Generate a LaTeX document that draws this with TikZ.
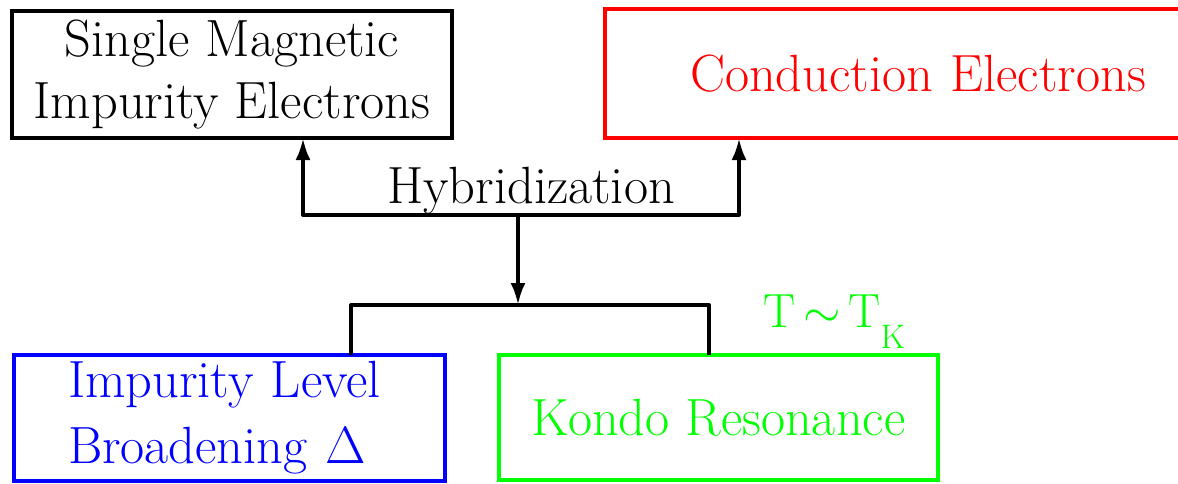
\documentclass[tikz,border=0pt]{standalone}
\usepackage{graphicx}
\usetikzlibrary{arrows.meta}
\definecolor{boxred}{RGB}{255,0,0}
\definecolor{boxblue}{RGB}{0,0,255}
\definecolor{boxgreen}{RGB}{0,255,0}
% math symbols enlarged to the size of the surrounding text
\newcommand{\bigDelta}{\scalebox{2.106}{$\Delta$}}
\newcommand{\bigSim}{\scalebox{1.93}{$\sim$}}
\begin{document}
\begin{tikzpicture}[x=1pt,y=-1pt,
  box/.style={draw, line width=4pt, inner sep=0pt, outer sep=0pt,
    font=\fontsize{52.4}{62}\selectfont},
  link/.style={draw=black, line width=4pt, line join=round},
  tip/.style={-{Latex[length=22pt,width=15pt]}},
  twotips/.style={{Latex[length=22pt,width=15pt]}-{Latex[length=22pt,width=15pt]}},
  lbl/.style={font=\fontsize{52.4}{62}\selectfont}]
\useasboundingbox (0,0) rectangle (1178,483);
\clip (0,0) rectangle (1178,483);

% the four boxes
\node[box, minimum width=440pt, minimum height=127pt, align=center]
  (mag) at (232,74.5) {Single Magnetic\\Impurity Electrons};
\node[box, draw=boxred, text=boxred, minimum height=129pt,
  text width=480pt, inner xsep=85pt, align=left]
  (cond) at (930,73.5) {Conduction Electrons};
\node[box, draw=boxblue, text=boxblue, font=\fontsize{52.4}{66}\selectfont,
  minimum height=126pt, text width=323pt, inner xsep=54pt, align=left]
  (imp) at (229.5,418) {Impurity Level\\Broadening \bigDelta};
\node[box, draw=boxgreen, text=boxgreen, minimum width=439pt, minimum height=125pt]
  (kondo) at (718.5,417.5) {Kondo Resonance};

% labels
\node[lbl, anchor=base] (hyb) at (531,203) {Hybridization};
\node[text=boxgreen, anchor=base west, inner sep=0pt,
  font=\fontsize{48}{56}\selectfont] (tk) at (763,327)
  {T\,\bigSim\,T\raisebox{-21pt}{\fontsize{34}{40}\selectfont K}};

% junction points of the connectors
\coordinate (hl) at (303,215);
\coordinate (hm) at (518,215);
\coordinate (hr) at (739,215);
\coordinate (ll) at (351,305);
\coordinate (lm) at (518,305);
\coordinate (lr) at (709,305);

% connectors
\draw[link, twotips] (hl |- mag.south) -- (hl) -- (hr) -- (hr |- cond.south);
\draw[link, tip] (hm) -- (lm);
\draw[link] (ll |- imp.north) -- (ll) -- (lr) -- (lr |- kondo.north);
\end{tikzpicture}
\end{document}
